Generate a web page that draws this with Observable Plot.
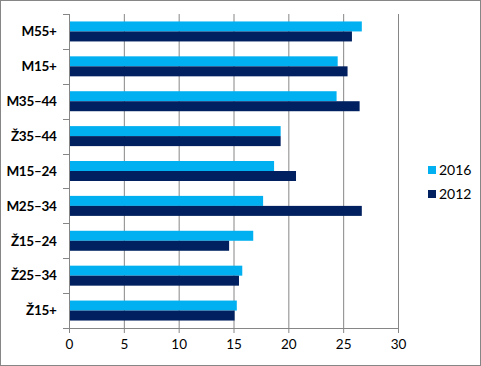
<!DOCTYPE html>
<html><head><meta charset="utf-8">
<script src="https://cdn.jsdelivr.net/npm/d3@7"></script>
<script src="https://cdn.jsdelivr.net/npm/@observablehq/plot@0.6"></script>
<style>
html,body{margin:0;padding:0;background:#fff;}
#wrap{position:relative;width:481px;height:366px;overflow:hidden;font-family:Lato,"Open Sans",sans-serif;}
#wrap svg{position:absolute;left:0;top:0;}
#border{position:absolute;left:0;top:0;width:481px;height:366px;box-sizing:border-box;border:1px solid #868686;pointer-events:none;}
.leg{position:absolute;left:428px;font-size:14px;color:#000;line-height:16px;display:flex;align-items:center;}
.leg span.sw{display:inline-block;width:8px;height:8px;margin-right:3px;}
</style></head><body>
<div id="wrap"></div>
<script>
const categories = ["M55+","M15+","M35–44","Ž35–44","M15–24","M25–34","Ž15–24","Ž25–34","Ž15+"];
const values2016 = [26.7,24.5,24.4,19.3,18.7,17.7,16.8,15.8,15.3];
const values2012 = [25.8,25.4,26.5,19.3,20.7,26.7,14.6,15.5,15.1];
const seriesNames = ["2016","2012"];
const seriesColors = ["#00B0F0","#002060"];
const xTicks = [0,5,10,15,20,25,30];

const W = 481, H = 366, mt = 14, mb = 38, ml = 69, mr = 83;
const step = (H - mt - mb) / categories.length;
const barH = 10;
const data2016 = categories.map((c, i) => ({cat: c, value: values2016[i]}));
const data2012 = categories.map((c, i) => ({cat: c, value: values2012[i]}));
const grid = "#868686";

const chart = Plot.plot({
  width: W, height: H,
  marginTop: mt, marginBottom: mb, marginLeft: ml, marginRight: mr,
  style: {fontFamily: "Lato, 'Open Sans', sans-serif", fontSize: "13px", color: "#000", background: "transparent", overflow: "visible"},
  x: {domain: [0, 30], ticks: xTicks, label: null},
  y: {domain: categories, padding: 0, round: false, label: null},
  marks: [
    Plot.ruleX(xTicks.slice(1), {stroke: grid, strokeWidth: 1}),
    Plot.barX(data2016, {x: "value", y: "cat", fill: seriesColors[0], insetTop: step / 2 - barH, insetBottom: step / 2}),
    Plot.barX(data2012, {x: "value", y: "cat", fill: seriesColors[1], insetTop: step / 2, insetBottom: step / 2 - barH}),
    Plot.ruleX([0], {stroke: grid, strokeWidth: 1}),
    Plot.axisX({ticks: xTicks, tickSize: 5, tickPadding: 6, stroke: grid, fontSize: 13.5, label: null}),
    Plot.axisY({tickSize: 0, tickPadding: 13, fontWeight: "bold", fontSize: 13.5, label: null})
  ]
});

const wrap = document.getElementById("wrap");
wrap.appendChild(chart);
d3.select(chart).selectAll("[aria-label='y-axis tick label'] text").style("letter-spacing", "-0.3px");

// Excel-style category boundary ticks and bottom axis line, from the chart's own scales
const xs = chart.scale("x"), ys = chart.scale("y");
const svg = d3.select(chart);
const g = svg.append("g").attr("stroke", grid).attr("stroke-width", 1);
const bounds = categories.map(c => ys.apply(c)).concat([ys.apply(categories[categories.length - 1]) + ys.bandwidth]);
const x0 = xs.apply(0);
bounds.forEach(b => {
  g.append("line").attr("x1", x0 - 6).attr("x2", x0).attr("y1", Math.round(b) + 0.5).attr("y2", Math.round(b) + 0.5);
});
const yb = Math.round(bounds[bounds.length - 1]) + 0.5;
g.append("line").attr("x1", x0).attr("x2", xs.apply(30) + 0.5).attr("y1", yb).attr("y2", yb);

// legend
const legTops = [162, 186];
seriesNames.forEach((s, i) => {
  const d = document.createElement("div");
  d.className = "leg";
  d.style.top = legTops[i] + "px";
  d.innerHTML = `<span class="sw" style="background:${seriesColors[i]}"></span>${s}`;
  wrap.appendChild(d);
});
const bd = document.createElement("div");
bd.id = "border";
wrap.appendChild(bd);
</script>
</body></html>
